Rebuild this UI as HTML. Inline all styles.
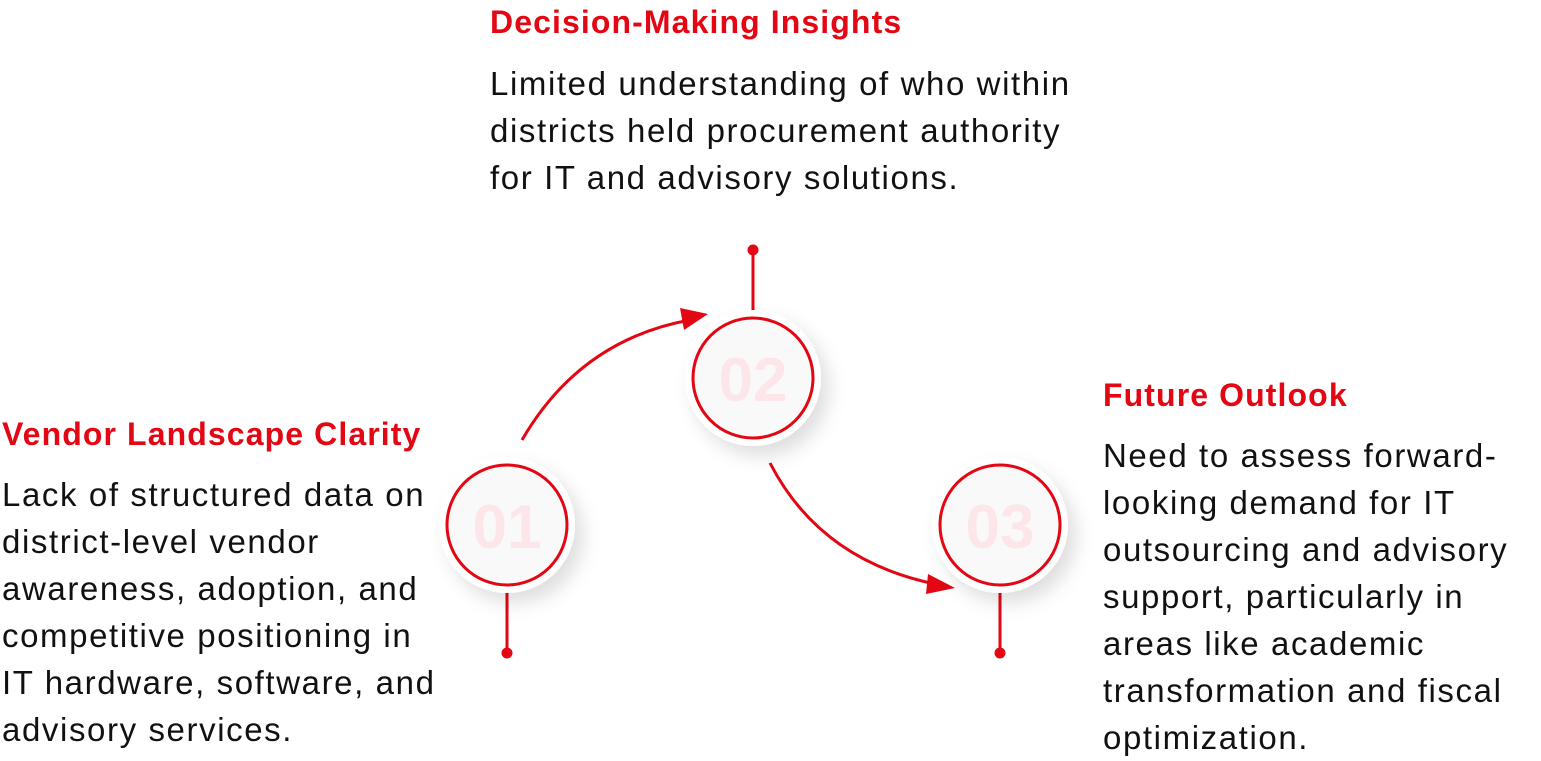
<!DOCTYPE html>
<html><head><meta charset="utf-8"><style>
body{margin:0;width:1541px;height:761px;background:#fff;position:relative;overflow:hidden;font-family:"Liberation Sans",sans-serif}
.t{position:absolute;color:#e30613;font-weight:bold;font-size:32px;white-space:nowrap;letter-spacing:1.1px}
.b{position:absolute;color:#111;font-size:33px;line-height:47px;white-space:nowrap;letter-spacing:1.6px}
</style></head><body>
<svg width="1541" height="761" style="position:absolute;left:0;top:0">
<defs>
<filter id="sh" x="-50%" y="-50%" width="200%" height="200%"><feDropShadow dx="8" dy="10" stdDeviation="9" flood-color="#000" flood-opacity="0.13"/></filter>
</defs>
<g stroke="#e30613" stroke-width="3" fill="#e30613">
<line x1="753" y1="250" x2="753" y2="312"/><circle cx="753" cy="250" r="4"/>
<line x1="507" y1="592" x2="507" y2="653"/><circle cx="507" cy="653" r="4"/>
<line x1="1000" y1="592" x2="1000" y2="653"/><circle cx="1000" cy="653" r="4"/>
</g>
<path d="M522 440 Q580 340 690 320" stroke="#e30613" stroke-width="3" fill="none"/>
<polygon points="708,314 680,308 684,330" fill="#e30613"/>
<path d="M770 463 Q820 560 935 584" stroke="#e30613" stroke-width="3" fill="none"/>
<polygon points="955,588 928,574 926,594" fill="#e30613"/>
<g font-family="Liberation Sans,sans-serif" font-weight="bold" font-size="62" fill="#fde6ea" text-anchor="middle">
<circle cx="507" cy="525" r="68" fill="#fff" filter="url(#sh)"/>
<circle cx="507" cy="525" r="60" fill="#f9f9f9" stroke="#e30613" stroke-width="3"/>
<text x="507" y="548">01</text>
<circle cx="753" cy="378" r="68" fill="#fff" filter="url(#sh)"/>
<circle cx="753" cy="378" r="60" fill="#f9f9f9" stroke="#e30613" stroke-width="3"/>
<text x="753" y="401">02</text>
<circle cx="1000" cy="525" r="68" fill="#fff" filter="url(#sh)"/>
<circle cx="1000" cy="525" r="60" fill="#f9f9f9" stroke="#e30613" stroke-width="3"/>
<text x="1000" y="548">03</text>
</g>
</svg>
<div class="t" style="left:490px;top:4px">Decision-Making Insights</div>
<div class="b" style="left:490px;top:60px">Limited understanding of who within<br>districts held procurement authority<br>for IT and advisory solutions.</div>
<div class="t" style="left:2px;top:416px">Vendor Landscape Clarity</div>
<div class="b" style="left:2px;top:471px">Lack of structured data on<br>district-level vendor<br>awareness, adoption, and<br>competitive positioning in<br>IT hardware, software, and<br>advisory services.</div>
<div class="t" style="left:1103px;top:377px">Future Outlook</div>
<div class="b" style="left:1103px;top:432px">Need to assess forward-<br>looking demand for IT<br>outsourcing and advisory<br>support, particularly in<br>areas like academic<br>transformation and fiscal<br>optimization.</div>
</body></html>
